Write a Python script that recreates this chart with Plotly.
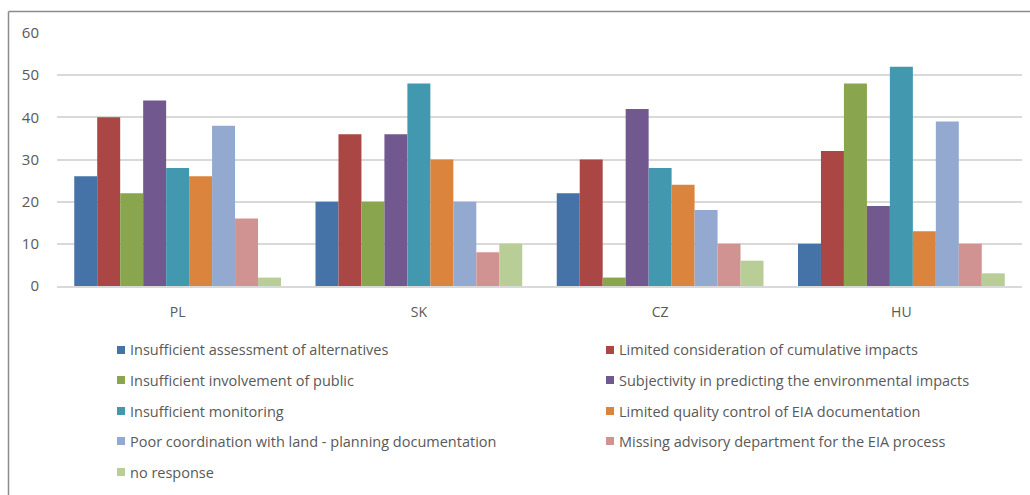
import plotly.graph_objects as go

# Countries on the category axis
countries = ["PL", "SK", "CZ", "HU"]

# Problem categories (series), in legend order
problems = [
    "Insufficient assessment of alternatives",
    "Limited consideration of cumulative impacts",
    "Insufficient involvement of public",
    "Subjectivity in predicting the environmental impacts",
    "Insufficient monitoring",
    "Limited quality control of EIA documentation",
    "Poor coordination with land - planning documentation",
    "Missing advisory department for the EIA process",
    "no response",
]

# Values per series, one entry per country (PL, SK, CZ, HU)
insufficient_alternatives = [26, 20, 22, 10]
limited_cumulative = [40, 36, 30, 32]
insufficient_public = [22, 20, 2, 48]
subjectivity_predicting = [44, 36, 42, 19]
insufficient_monitoring = [28, 48, 28, 52]
limited_quality_control = [26, 30, 24, 13]
poor_coordination = [38, 20, 18, 39]
missing_advisory = [16, 8, 10, 10]
no_response = [2, 10, 6, 3]

series_values = [
    insufficient_alternatives,
    limited_cumulative,
    insufficient_public,
    subjectivity_predicting,
    insufficient_monitoring,
    limited_quality_control,
    poor_coordination,
    missing_advisory,
    no_response,
]

colors = ["#4572A7", "#AA4643", "#89A54E", "#71588F", "#4198AF",
          "#DB843D", "#93A9CF", "#D19392", "#B9CD96"]

y_ticks = [0, 10, 20, 30, 40, 50, 60]

W, H = 1030, 495
ML, MR, MT, MB = 57, 8, 33, 209
PW, PH = W - ML - MR, H - MT - MB
FONT = "'Open Sans', Lato, sans-serif"
TEXT = "#595959"


def px_x(px):
    return (px - ML) / PW


def px_y(py):
    return (H - MB - py) / PH


fig = go.Figure()
for name, vals, col in zip(problems, series_values, colors):
    fig.add_trace(go.Bar(x=countries, y=vals, name=name, marker_color=col,
                         marker_line_width=0, showlegend=False))

# Two-column legend drawn beneath the plot
shapes = []
annotations = []
col_x = [117, 606]
row_y = [350, 380, 411, 441, 472]
for i, (name, col) in enumerate(zip(problems, colors)):
    cx = col_x[i % 2]
    cy = row_y[i // 2]
    shapes.append(dict(type="rect", xref="paper", yref="paper",
                       x0=px_x(cx), x1=px_x(cx + 8),
                       y0=px_y(cy + 4), y1=px_y(cy - 4),
                       fillcolor=col, line_width=0))
    annotations.append(dict(xref="paper", yref="paper", x=px_x(cx + 11),
                            y=px_y(cy), text=name, showarrow=False,
                            xanchor="left", yanchor="middle",
                            font=dict(family=FONT, size=14.5, color=TEXT)))

# Chart frame (left and top edges)
shapes.append(dict(type="line", xref="paper", yref="paper",
                   x0=px_x(8.5), x1=px_x(8.5), y0=px_y(11.5), y1=px_y(500),
                   line=dict(color="#8c8c8c", width=1.5)))
shapes.append(dict(type="line", xref="paper", yref="paper",
                   x0=px_x(8.5), x1=px_x(1035), y0=px_y(11.5), y1=px_y(11.5),
                   line=dict(color="#8c8c8c", width=1.5)))

fig.update_layout(
    width=W, height=H,
    margin=dict(l=ML, r=MR, t=MT, b=MB, pad=0),
    paper_bgcolor="white", plot_bgcolor="white",
    barmode="group", bargap=0.143, bargroupgap=0,
    font=dict(family=FONT, size=14, color=TEXT),
    shapes=shapes, annotations=annotations,
    xaxis=dict(showgrid=False, showline=True, linecolor="#d9d9d9",
               linewidth=1.5, ticks="", ticklabelstandoff=12,
               tickfont=dict(family=FONT, size=14, color=TEXT)),
    yaxis=dict(range=[0, 60], tickvals=y_ticks, showgrid=True,
               gridcolor="#d9d9d9", gridwidth=1.5, zeroline=False,
               showline=False, ticks="", ticklabelstandoff=17,
               tickfont=dict(family=FONT, size=15, color=TEXT)),
)

fig.write_html("out.html")
